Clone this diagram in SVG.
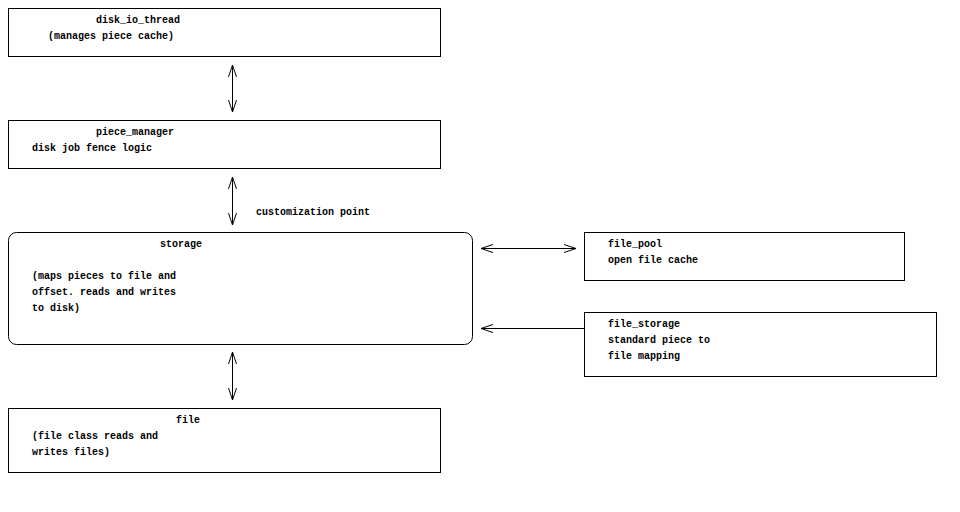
<svg xmlns="http://www.w3.org/2000/svg" width="960" height="512" viewBox="0 0 960 512">
<style>
  .box { fill: #ffffff; stroke: #000000; stroke-width: 1; }
  .t { font-family: "Liberation Mono", "DejaVu Sans Mono", monospace; font-size: 10px; font-weight: bold; fill: #000000; }
  .c { stroke: #000000; stroke-width: 1; fill: none; }
</style>
<defs>
  <marker id="ah" markerUnits="userSpaceOnUse" markerWidth="14" markerHeight="10" viewBox="-13 -5 14 10" refX="0" refY="0" orient="auto-start-reverse">
    <path d="M-12,-4 L0,0 L-12,4" fill="none" stroke="#000000" stroke-width="1"/>
  </marker>
</defs>
<rect x="0" y="0" width="960" height="512" fill="#ffffff"/>
<g id="connectors">
  <line class="c" x1="232.5" y1="65" x2="232.5" y2="112" marker-start="url(#ah)" marker-end="url(#ah)"/>
  <line class="c" x1="232.5" y1="177" x2="232.5" y2="225" marker-start="url(#ah)" marker-end="url(#ah)"/>
  <line class="c" x1="232.5" y1="352" x2="232.5" y2="400" marker-start="url(#ah)" marker-end="url(#ah)"/>
  <line class="c" x1="481" y1="248.5" x2="576" y2="248.5" marker-start="url(#ah)" marker-end="url(#ah)"/>
  <line class="c" x1="481" y1="328.5" x2="584" y2="328.5" marker-start="url(#ah)"/>
  <text class="t" x="256" y="215">customization point</text>
</g>
<g id="disk_io_thread">
  <rect class="box" x="8.5" y="8.5" width="432" height="48"/>
  <text class="t" x="96" y="23">disk_io_thread</text>
  <text class="t" x="48" y="39">(manages piece cache)</text>
</g>
<g id="piece_manager">
  <rect class="box" x="8.5" y="120.5" width="432" height="48"/>
  <text class="t" x="96" y="135">piece_manager</text>
  <text class="t" x="32" y="151">disk job fence logic</text>
</g>
<g id="storage">
  <rect class="box" x="8.5" y="232.5" width="464" height="112" rx="8" ry="8"/>
  <text class="t" x="160" y="247">storage</text>
  <text class="t" x="32" y="279">(maps pieces to file and</text>
  <text class="t" x="32" y="295">offset. reads and writes</text>
  <text class="t" x="32" y="311">to disk)</text>
</g>
<g id="file_pool">
  <rect class="box" x="584.5" y="232.5" width="320" height="48"/>
  <text class="t" x="608" y="247">file_pool</text>
  <text class="t" x="608" y="263">open file cache</text>
</g>
<g id="file_storage">
  <rect class="box" x="584.5" y="312.5" width="352" height="64"/>
  <text class="t" x="608" y="327">file_storage</text>
  <text class="t" x="608" y="343">standard piece to</text>
  <text class="t" x="608" y="359">file mapping</text>
</g>
<g id="file">
  <rect class="box" x="8.5" y="408.5" width="432" height="64"/>
  <text class="t" x="176" y="423">file</text>
  <text class="t" x="32" y="439">(file class reads and</text>
  <text class="t" x="32" y="455">writes files)</text>
</g>
</svg>
